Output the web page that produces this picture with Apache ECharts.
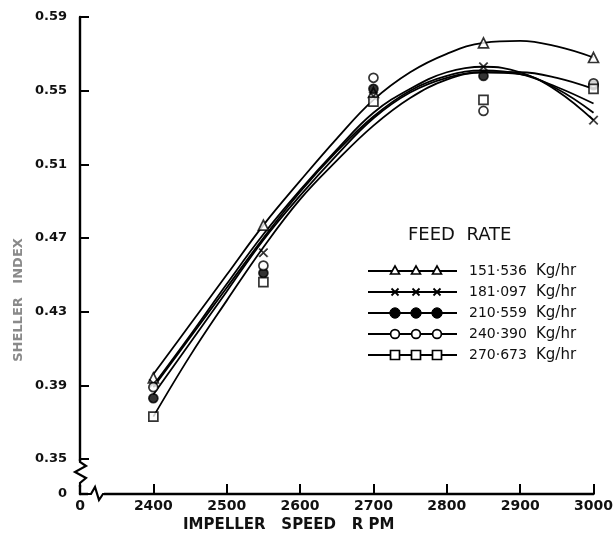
<!DOCTYPE html>
<html>
<head>
<meta charset="utf-8">
<script src="https://cdn.jsdelivr.net/npm/echarts@6/dist/echarts.min.js"></script>
<style>
  html, body { margin: 0; padding: 0; background: #fff; }
  #chart { width: 616px; height: 542px; }
</style>
</head>
<body>
<div id="chart"></div>
<script>
// Measured sheller index at each impeller speed, one list per feed rate
const speeds = [2400, 2550, 2700, 2850, 3000];
const fr151 = [0.394, 0.477, 0.549, 0.576, 0.568];
const fr181 = [0.391, 0.462, 0.547, 0.563, 0.534];
const fr210 = [0.383, 0.451, 0.551, 0.558, 0.553];
const fr240 = [0.389, 0.455, 0.557, 0.539, 0.554];
const fr270 = [0.373, 0.446, 0.544, 0.545, 0.551];

// Fitted response curves, read at regular speed steps
const curveSpeeds = [2400, 2450, 2500, 2550, 2600, 2650, 2700, 2750, 2800, 2850, 2900, 2950, 3000];
const fit151 = [0.396, 0.423, 0.450, 0.477, 0.501, 0.524, 0.545, 0.560, 0.570, 0.576, 0.577, 0.574, 0.568];
const fit181 = [0.390, 0.417, 0.445, 0.472, 0.496, 0.518, 0.538, 0.551, 0.560, 0.563, 0.560, 0.550, 0.534];
const fit210 = [0.385, 0.413, 0.441, 0.469, 0.493, 0.515, 0.535, 0.549, 0.557, 0.560, 0.560, 0.557, 0.551];
const fit240 = [0.389, 0.416, 0.443, 0.470, 0.495, 0.517, 0.536, 0.550, 0.558, 0.561, 0.559, 0.552, 0.543];
const fit270 = [0.373, 0.406, 0.436, 0.465, 0.491, 0.512, 0.531, 0.546, 0.556, 0.560, 0.559, 0.551, 0.538];

// Axis tick values and legend labels
const xTicks = [2400, 2500, 2600, 2700, 2800, 2900, 3000];
const yTicks = [0.35, 0.39, 0.43, 0.47, 0.51, 0.55, 0.59];
const feedRates = ['151·536', '181·097', '210·559', '240·390', '270·673'];

const X_MIN = 2300, X_MAX = 3000, Y_MIN = 0.331, Y_MAX = 0.59;

const crossPath = 'path://M0,1L1,0L5,4L9,0L10,1L6,5L10,9L9,10L5,6L1,10L0,9L4,5Z';
const markerStyles = [
  { symbol: 'triangle', size: 10, fill: '#fff' },
  { symbol: crossPath, size: 9, fill: '#000' },
  { symbol: 'circle', size: 9, fill: '#000' },
  { symbol: 'circle', size: 9, fill: '#fff' },
  { symbol: 'rect', size: 9, fill: '#fff' }
];
const pointSets = [fr151, fr181, fr210, fr240, fr270];
const curveSets = [fit151, fit181, fit210, fit240, fit270];

const series = [];
curveSets.forEach((vals, i) => {
  series.push({
    name: 'fit-' + feedRates[i],
    type: 'line',
    smooth: 0.4,
    showSymbol: false,
    silent: true,
    z: 2,
    lineStyle: { color: '#000', width: 1.8 },
    data: curveSpeeds.map((s, k) => [s, vals[k]])
  });
});
pointSets.forEach((vals, i) => {
  const m = markerStyles[i];
  series.push({
    name: feedRates[i] + ' Kg/hr',
    type: 'scatter',
    symbol: m.symbol,
    symbolSize: m.size,
    z: 4,
    itemStyle: {
      color: m.fill,
      borderColor: '#000',
      borderWidth: m.symbol === crossPath ? 0.5 : 1.7
    },
    data: speeds.map((s, k) => [s, vals[k]])
  });
});

// Legend drawn as line samples carrying three markers each
const legendEls = [];
const rowY = [271, 292, 313, 334, 355];
legendEls.push({
  type: 'text', left: 408, top: 226,
  style: { text: 'FEED  RATE', font: '18px "DejaVu Sans"', fill: '#111' }
});
rowY.forEach((ry, i) => {
  legendEls.push({ type: 'line', shape: { x1: 368, y1: ry, x2: 457, y2: ry },
    style: { stroke: '#000', lineWidth: 1.8 } });
  [395, 416, 437].forEach(mx => {
    if (i === 0) {
      legendEls.push({ type: 'polygon', shape: { points: [[mx, ry - 5], [mx - 4.5, ry + 3], [mx + 4.5, ry + 3]] },
        style: { fill: '#fff', stroke: '#000', lineWidth: 1.6 } });
    } else if (i === 1) {
      legendEls.push({ type: 'polyline', shape: { points: [[mx - 3.5, ry - 3.5], [mx + 3.5, ry + 3.5]] },
        style: { stroke: '#000', lineWidth: 1.8 } });
      legendEls.push({ type: 'polyline', shape: { points: [[mx + 3.5, ry - 3.5], [mx - 3.5, ry + 3.5]] },
        style: { stroke: '#000', lineWidth: 1.8 } });
    } else if (i === 2) {
      legendEls.push({ type: 'circle', shape: { cx: mx, cy: ry, r: 5.2 },
        style: { fill: '#000', stroke: '#000', lineWidth: 1 } });
    } else if (i === 3) {
      legendEls.push({ type: 'circle', shape: { cx: mx, cy: ry, r: 4.4 },
        style: { fill: '#fff', stroke: '#000', lineWidth: 1.7 } });
    } else {
      legendEls.push({ type: 'rect', shape: { x: mx - 4.5, y: ry - 4.5, width: 9, height: 9 },
        style: { fill: '#fff', stroke: '#000', lineWidth: 1.7 } });
    }
  });
  legendEls.push({ type: 'text', x: 469, y: ry,
    style: { text: feedRates[i], font: '14px "DejaVu Sans"', fill: '#111', verticalAlign: 'middle' } });
  legendEls.push({ type: 'text', x: 536, y: ry,
    style: { text: 'Kg/hr', font: '15px "DejaVu Sans"', fill: '#111', verticalAlign: 'middle' } });
});

// Axis breaks and axis titles
const breakEls = [
  { type: 'rect', shape: { x: 74, y: 461, width: 14, height: 24 }, style: { fill: '#fff' }, z: 10 },
  { type: 'polyline', z: 11, shape: { points: [[80, 459], [80, 462], [86, 466], [75, 472], [86, 478], [80, 483], [80, 487]] },
    style: { stroke: '#000', lineWidth: 2.2, fill: null } },
  { type: 'rect', shape: { x: 88, y: 488, width: 16, height: 12 }, style: { fill: '#fff' }, z: 10 },
  { type: 'polyline', z: 11, shape: { points: [[87, 494], [91, 494], [95, 487], [99, 500], [103, 494], [106, 494]] },
    style: { stroke: '#000', lineWidth: 2.2, fill: null } },
  { type: 'text', z: 11, x: 19, y: 300, rotation: Math.PI / 2, originX: 0, originY: 0,
    style: { text: 'SHELLER   INDEX', font: 'bold 13px "DejaVu Sans"', fill: '#8a8a8a',
      align: 'center', verticalAlign: 'middle' } },
  { type: 'text', z: 11, left: 183, top: 518,
    style: { text: 'IMPELLER   SPEED   R PM', font: 'bold 15px "DejaVu Sans"', fill: '#111' } }
];

const chart = echarts.init(document.getElementById('chart'));
chart.setOption({
  animation: false,
  backgroundColor: '#fff',
  grid: { left: 80, right: 19, top: 17, bottom: 48, containLabel: false },
  xAxis: {
    type: 'value', min: X_MIN, max: X_MAX,
    axisLine: { show: true, lineStyle: { color: '#000', width: 2.4 } },
    axisTick: { show: true, inside: true, length: 10, customValues: xTicks,
      lineStyle: { color: '#000', width: 2 } },
    axisLabel: {
      customValues: [X_MIN].concat(xTicks),
      formatter: v => (v < 2350 ? '0' : String(v)),
      color: '#111', fontFamily: 'DejaVu Sans', fontWeight: 'bold', fontSize: 14, margin: 5
    },
    splitLine: { show: false }
  },
  yAxis: {
    type: 'value', min: Y_MIN, max: Y_MAX,
    axisLine: { show: true, lineStyle: { color: '#000', width: 2.4 } },
    axisTick: { show: true, inside: true, length: 9, customValues: yTicks,
      lineStyle: { color: '#000', width: 2 } },
    axisLabel: {
      customValues: [Y_MIN].concat(yTicks),
      formatter: v => (v < 0.34 ? '0' : v.toFixed(2)),
      color: '#111', fontFamily: 'DejaVu Sans', fontWeight: 'bold', fontSize: 13, margin: 13
    },
    splitLine: { show: false }
  },
  series: series,
  graphic: legendEls.concat(breakEls)
});
</script>
</body>
</html>
